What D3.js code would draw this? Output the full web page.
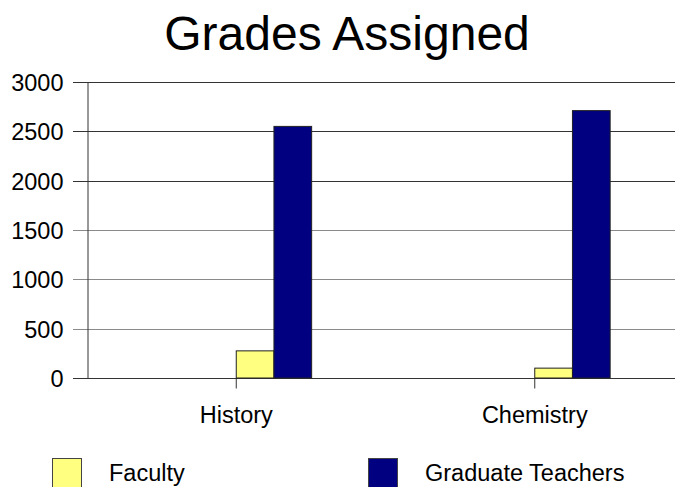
<!DOCTYPE html>
<html>
<head>
<meta charset="utf-8">
<script src="https://cdn.jsdelivr.net/npm/d3@7"></script>
<style>
	body { margin: 0; background: #fff; }
	#graphicContainer { width: 675px; height: 487px; overflow: hidden; }
	text { font-family: "Liberation Sans", Arial, sans-serif; fill: #000; }
</style>
</head>
<body>
<div id="graphicContainer"></div>
<script>

var categories = ["History", "Chemistry"]
var series = ["Faculty", "Graduate Teachers"]
var faculty = [275, 100]
var gradTeachers = [2550, 2710]
var yTicks = [0, 500, 1000, 1500, 2000, 2500, 3000]
var colors = ["#ffff80", "#000080"]

function init() {

	var width = 675
	var height = 487

	var svg = d3.select("#graphicContainer").append("svg")
				.attr("width", width)
				.attr("height", height)

	// plot runs off the right edge, like the original
	var x = d3.scaleBand()
		.domain(categories)
		.range([87, 684])

	var barW = x.bandwidth() * 0.1263

	var xs = d3.scaleBand()
		.domain(series)
		.range([0, barW * 2])

	var y = d3.scaleLinear()
		.domain([0, 3000])
		.range([378, 82])

	svg.append("text")
		.attr("x", 347)
		.attr("y", 50)
		.attr("text-anchor", "middle")
		.style("font-size", "48px")
		.text("Grades Assigned")

	// gridlines
	svg.append("g")
		.selectAll("line")
		.data(yTicks)
		.enter()
		.append("line")
		.attr("x1", 73)
		.attr("x2", width)
		.attr("y1", d => Math.round(y(d)) + 0.5)
		.attr("y2", d => Math.round(y(d)) + 0.5)
		.attr("stroke", d => (d >= 2000 || d == 0) ? "#333" : "#8a8a8a")

	var yAxis = svg.append("g")
		.attr("transform", "translate(87.5,0)")
		.call(d3.axisLeft(y).tickValues(yTicks).tickSize(0).tickPadding(24).tickFormat(d3.format("d")))

	yAxis.select(".domain").attr("stroke", "#333")
	yAxis.selectAll("text").style("font-size", "23.5px").attr("dy", "0.36em")

	var xAxis = svg.append("g")
		.attr("transform", "translate(0,378.5)")
		.call(d3.axisBottom(x).tickSize(10).tickPadding(18))

	xAxis.select(".domain").remove()
	xAxis.selectAll("line").attr("stroke", "#333")
	xAxis.selectAll("text").style("font-size", "23.5px")

	var rows = categories.map(function(c, i) {
		return [{cat: c, s: series[0], v: faculty[i], c: colors[0]},
				{cat: c, s: series[1], v: gradTeachers[i], c: colors[1]}]
	})

	svg.append("g")
		.selectAll("rect")
		.data(rows.flat())
		.enter()
		.append("rect")
		.attr("x", d => x(d.cat) + x.bandwidth() / 2 + xs(d.s))
		.attr("y", d => y(d.v))
		.attr("width", xs.bandwidth())
		.attr("height", d => y(0) - y(d.v))
		.attr("fill", d => d.c)
		.attr("stroke", "#222")
		.attr("stroke-width", 1)

	// legend
	var legendX = [52, 368]
	var legend = svg.append("g")
		.selectAll("g")
		.data(series)
		.enter()
		.append("g")
		.attr("transform", (d, i) => "translate(" + legendX[i] + ",458)")

	legend.append("rect")
		.attr("x", 0.5)
		.attr("y", 0.5)
		.attr("width", 29)
		.attr("height", 29)
		.attr("fill", (d, i) => colors[i])
		.attr("stroke", "#444")

	legend.append("text")
		.attr("x", 57)
		.attr("y", 23)
		.style("font-size", "23.5px")
		.text(d => d)

}

init()

</script>
</body>
</html>
